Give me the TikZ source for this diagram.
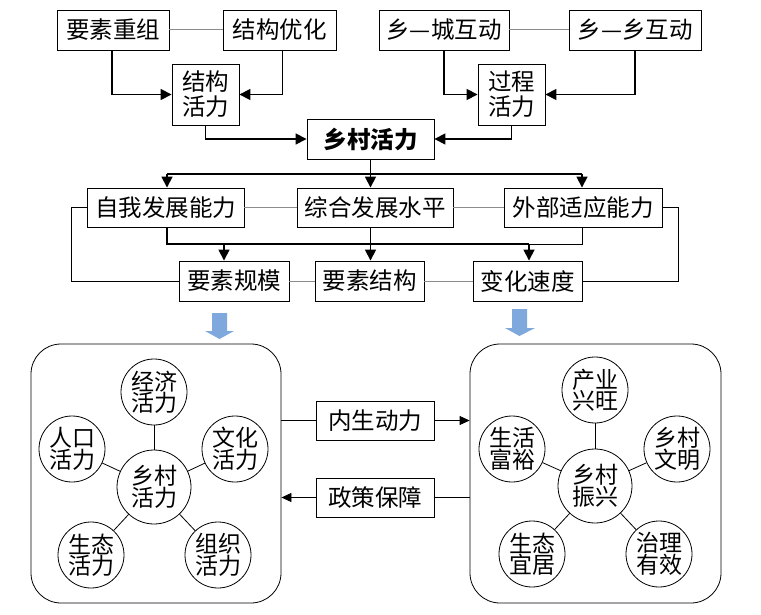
\documentclass[tikz,border=0pt]{standalone}
\usepackage{fontspec}
\setmainfont{Noto Sans CJK SC}
\usetikzlibrary{arrows.meta}
\definecolor{bluearrow}{HTML}{7FA8DC}
\definecolor{linkgray}{HTML}{8C8C8C}
\begin{document}
\begin{tikzpicture}[x=1pt,y=-1pt,
  box/.style={draw, line width=0.9pt, inner sep=0pt, align=center, font=\fontsize{23.5}{25}\selectfont},
  thk/.style={line width=1.7pt, -{Triangle[length=11pt,width=11pt]}},
  thkline/.style={line width=1.7pt},
  gry/.style={draw=linkgray, line width=1pt},
  thn/.style={line width=0.8pt},
  thnarrow/.style={line width=0.8pt, -{Triangle[length=10pt,width=9pt]}},
  circ/.style={circle, draw, line width=0.8pt, inner sep=0pt, minimum size=66pt, align=center, font=\fontsize{23}{21}\selectfont},
  bigbox/.style={draw, line width=0.8pt, rounded corners=30pt}
]
\useasboundingbox (0,0) rectangle (761,615);

% top row
\node[box, minimum width=112pt, minimum height=40pt] (n1) at (113,30) {要素重组};
\node[box, minimum width=113pt, minimum height=40pt] (n2) at (279.5,30) {结构优化};
\node[box, minimum width=130pt, minimum height=40pt] (n3) at (444,30) {乡—城互动};
\node[box, minimum width=132pt, minimum height=40pt] (n4) at (635,30) {乡—乡互动};
\node[box, minimum width=67pt, minimum height=61pt] (s1) at (205.5,94.5) {结构\\活力};
\node[box, minimum width=67pt, minimum height=61pt] (s2) at (511.5,94.5) {过程\\活力};
\node[box, minimum width=127pt, minimum height=40pt] (v) at (370.5,139) {\bfseries 乡村活力};

\draw[gry] (n1) -- (n2);
\draw[gry] (n3) -- (n4);
\draw[thk] ([xshift=-1pt]n1.south) |- (s1.west);
\draw[thk] ([xshift=3pt]n2.south) |- (s1.east);
\draw[thk] (n3.south) |- (s2.west);
\draw[thk] (n4.south) |- (s2.east);
\draw[thk] (s1.south) |- (v.west);
\draw[thk] (s2.south) |- (v.east);

% second row
\node[box, minimum width=157pt, minimum height=39pt] (a1) at (165.5,207.5) {自我发展能力};
\node[box, minimum width=156pt, minimum height=39pt] (a2) at (375,207.5) {综合发展水平};
\node[box, minimum width=158pt, minimum height=39pt] (a3) at (583,207.5) {外部适应能力};
\node[box, minimum width=110pt, minimum height=40pt] (b1) at (234,281) {要素规模};
\node[box, minimum width=109pt, minimum height=40pt] (b2) at (369.5,281) {要素结构};
\node[box, minimum width=109pt, minimum height=40pt] (b3) at (527.5,281) {变化速度};

\coordinate (t) at (370.5,174);
\coordinate (bb) at (370.5,244);
\draw[thkline] (v.south) -- (t);
\draw[thkline] ([xshift=1.5pt]a1.north |- t) -- ([xshift=-1pt]a3.north |- t);
\draw[thk] ([xshift=1.5pt]a1.north |- t) -- ([xshift=1.5pt]a1.north);
\draw[thk] (t) -- (t |- a2.north);
\draw[thk] ([xshift=-1pt]a3.north |- t) -- ([xshift=-1pt]a3.north);

\draw[gry] (a1) -- (a2);
\draw[gry] (a2) -- (a3);
\draw[gry] (b1) -- (b2);
\draw[gry] (b2) -- (b3);

\draw[thkline] ([xshift=1.5pt]a1.south) |- (bb) -- ([xshift=1.5pt]b3.north |- bb);
\draw[thkline] (a2.south -| bb) -- (bb);
\draw[thn] ([xshift=1.5pt]b3.north |- bb) -| ([xshift=-1pt]a3.south);
\draw[thk] ([xshift=-10pt]b1.north |- bb) -- ([xshift=-10pt]b1.north);
\draw[thk] (bb) -- (bb |- b2.north);
\draw[thk] ([xshift=1.5pt]b3.north |- bb) -- ([xshift=1.5pt]b3.north);

\draw[thn] (a1.west) -- ++(-15,0) |- (b1.west);
\draw[thn] (a3.east) -- ++(16,0) |- (b3.east);

% blue arrows
\fill[bluearrow] (212,313) -- (227,313) -- (227,331) -- (234,331) -- (219.5,339) -- (205,331) -- (212,331) -- cycle;
\fill[bluearrow] (512,309) -- (527,309) -- (527,328) -- (535,328) -- (519.5,336) -- (505,328) -- (512,328) -- cycle;

% big rounded boxes
\node[bigbox, minimum width=250pt, minimum height=259pt] (L) at (156,473.5) {};
\node[bigbox, minimum width=251pt, minimum height=259pt] (R) at (595.5,473.5) {};

% left circles
\node[circ, minimum size=74pt] (c0) at (154,487) {乡村\\活力};
\node[circ] (c1) at (154,392) {经济\\活力};
\node[circ] (c2) at (72,449) {人口\\活力};
\node[circ] (c3) at (235,449) {文化\\活力};
\node[circ] (c4) at (91,555) {生态\\活力};
\node[circ] (c5) at (218,555) {组织\\活力};
\foreach \k in {c1,c2,c3,c4,c5} \draw[thn] (c0) -- (\k);

% right circles
\node[circ, minimum size=74pt] (d0) at (595,486) {乡村\\振兴};
\node[circ] (d1) at (595,390) {产业\\兴旺};
\node[circ] (d2) at (512,449) {生活\\富裕};
\node[circ] (d3) at (677,449) {乡村\\文明};
\node[circ] (d4) at (532,554) {生态\\宜居};
\node[circ] (d5) at (659,554) {治理\\有效};
\foreach \k in {d1,d2,d3,d4,d5} \draw[thn] (d0) -- (\k);

% middle boxes
\node[box, minimum width=118pt, minimum height=39pt] (m1) at (375,420.5) {内生动力};
\node[box, minimum width=118pt, minimum height=39pt] (m2) at (375,497.5) {政策保障};
\draw[thn] (L.east |- m1) -- (m1.west);
\draw[thnarrow] (m1.east) -- (R.west |- m1);
\draw[thn] (R.west |- m2) -- (m2.east);
\draw[thnarrow] (m2.west) -- (L.east |- m2);
\end{tikzpicture}
\end{document}
